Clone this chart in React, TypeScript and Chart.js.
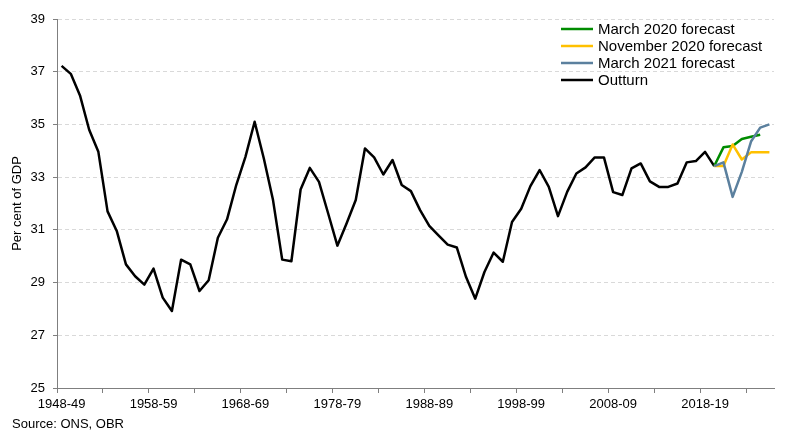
import React, { useEffect, useRef } from 'react';
import { Chart, registerables } from 'chart.js';

Chart.register(...registerables);

const years = [
  '1948-49', '1949-50', '1950-51', '1951-52', '1952-53', '1953-54', '1954-55', '1955-56', '1956-57', '1957-58',
  '1958-59', '1959-60', '1960-61', '1961-62', '1962-63', '1963-64', '1964-65', '1965-66', '1966-67', '1967-68',
  '1968-69', '1969-70', '1970-71', '1971-72', '1972-73', '1973-74', '1974-75', '1975-76', '1976-77', '1977-78',
  '1978-79', '1979-80', '1980-81', '1981-82', '1982-83', '1983-84', '1984-85', '1985-86', '1986-87', '1987-88',
  '1988-89', '1989-90', '1990-91', '1991-92', '1992-93', '1993-94', '1994-95', '1995-96', '1996-97', '1997-98',
  '1998-99', '1999-00', '2000-01', '2001-02', '2002-03', '2003-04', '2004-05', '2005-06', '2006-07', '2007-08',
  '2008-09', '2009-10', '2010-11', '2011-12', '2012-13', '2013-14', '2014-15', '2015-16', '2016-17', '2017-18',
  '2018-19', '2019-20', '2020-21', '2021-22', '2022-23', '2023-24', '2024-25', '2025-26',
];

const xTickLabels = ['1948-49', '1958-59', '1968-69', '1978-79', '1988-89', '1998-99', '2008-09', '2018-19'];

// Outturn, 1948-49 to 2019-20 (per cent of GDP)
const outturn = [
  37.22, 36.92, 36.1, 34.8, 33.96, 31.7, 30.96, 29.69, 29.24, 28.92,
  29.53, 28.43, 27.92, 29.87, 29.69, 28.68, 29.09, 30.7, 31.4, 32.7,
  33.77, 35.1, 33.71, 32.13, 29.87, 29.81, 32.53, 33.35, 32.82, 31.62,
  30.4, 31.24, 32.13, 34.09, 33.75, 33.1, 33.65, 32.7, 32.47, 31.75,
  31.15, 30.79, 30.44, 30.33, 29.21, 28.39, 29.4, 30.14, 29.79, 31.3,
  31.8, 32.66, 33.27, 32.63, 31.52, 32.44, 33.14, 33.37, 33.75, 33.75,
  32.43, 32.32, 33.33, 33.52, 32.84, 32.63, 32.63, 32.76, 33.56, 33.61,
  33.96, 33.42,
];

// Forecasts, starting in 2019-20
const forecastStart = '2019-20';
const march2020 = [33.42, 34.13, 34.18, 34.45, 34.53, 34.61];
const november2020 = [33.42, 33.42, 34.24, 33.67, 33.94, 33.94, 33.94];
const march2021 = [33.42, 33.56, 32.25, 33.2, 34.35, 34.88, 35.0];

const FONT = '"Liberation Sans", Arial, sans-serif';

function padSeries(values: number[]): (number | null)[] {
  const start = years.indexOf(forecastStart);
  const out: (number | null)[] = years.map(() => null);
  values.forEach((v, i) => {
    out[start + i] = v;
  });
  return out;
}

const overlayPlugin = {
  id: 'overlay',
  afterDraw(chart: any) {
    const { ctx, chartArea } = chart;
    ctx.save();
    const x0 = chartArea.right - 213;
    const y0 = 29;
    const step = 17;
    chart.data.datasets.forEach((ds: any, i: number) => {
      const yy = y0 + i * step;
      ctx.strokeStyle = ds.borderColor;
      ctx.lineWidth = 2.5;
      ctx.beginPath();
      ctx.moveTo(x0, yy);
      ctx.lineTo(x0 + 32, yy);
      ctx.stroke();
      ctx.fillStyle = '#000';
      ctx.font = '15px ' + FONT;
      ctx.textBaseline = 'middle';
      ctx.textAlign = 'left';
      ctx.fillText(ds.label, x0 + 37, yy + 1);
    });
    ctx.font = '13px ' + FONT;
    ctx.fillStyle = '#000';
    ctx.textBaseline = 'middle';
    ctx.fillText('Source: ONS, OBR', 12, 424);
    ctx.restore();
  },
};

export default function App() {
  const ref = useRef<HTMLCanvasElement | null>(null);

  useEffect(() => {
    if (!ref.current) return;
    const chart = new Chart(ref.current, {
      type: 'line',
      data: {
        labels: years,
        datasets: [
          {
            label: 'March 2020 forecast',
            data: padSeries(march2020),
            borderColor: '#008C00',
            borderWidth: 2.5,
            pointRadius: 0,
            order: 2,
          },
          {
            label: 'November 2020 forecast',
            data: padSeries(november2020),
            borderColor: '#FFC000',
            borderWidth: 2.5,
            pointRadius: 0,
            order: 1,
          },
          {
            label: 'March 2021 forecast',
            data: padSeries(march2021),
            borderColor: '#5B809E',
            borderWidth: 2.5,
            pointRadius: 0,
            order: 0,
          },
          {
            label: 'Outturn',
            data: outturn,
            borderColor: '#000000',
            borderWidth: 2.5,
            pointRadius: 0,
            order: 3,
          },
        ],
      },
      options: {
        responsive: false,
        animation: false,
        events: [],
        layout: { padding: { top: 19, right: 20, bottom: 0, left: 0 } },
        elements: { line: { tension: 0, borderJoinStyle: 'round', borderCapStyle: 'butt' } },
        plugins: {
          legend: { display: false },
          tooltip: { enabled: false },
          title: { display: false },
        },
        scales: {
          x: {
            type: 'category',
            offset: true,
            grid: {
              offset: true,
              drawOnChartArea: false,
              drawTicks: true,
              tickLength: 5,
              lineWidth: 1,
              color: (c: any) => (c.index % 5 === 0 && c.index < years.length ? '#7f7f7f' : 'rgba(0,0,0,0)'),
              tickColor: (c: any) => (c.index % 5 === 0 && c.index < years.length ? '#7f7f7f' : 'rgba(0,0,0,0)'),
            },
            border: { display: true, color: '#7f7f7f', width: 1 },
            ticks: {
              autoSkip: false,
              maxRotation: 0,
              minRotation: 0,
              padding: 4,
              color: '#000',
              font: { family: FONT, size: 13 },
              callback: (_v: any, i: number) => (xTickLabels.includes(years[i]) ? years[i] : ''),
            },
            afterFit: (s: any) => {
              s.height = 50;
            },
          },
          y: {
            min: 25,
            max: 39,
            ticks: {
              stepSize: 2,
              padding: 8,
              color: '#000',
              font: { family: FONT, size: 13 },
            },
            grid: {
              color: '#d9d9d9',
              lineWidth: 1,
              drawTicks: true,
              tickLength: 4,
              tickColor: '#7f7f7f',
              tickBorderDash: [],
            },
            border: { display: true, color: '#7f7f7f', width: 1, dash: [4, 3] },
            title: {
              display: true,
              text: 'Per cent of GDP',
              color: '#000',
              font: { family: FONT, size: 13 },
              padding: { top: 10, bottom: 0 },
            },
            afterFit: (s: any) => {
              s.width = 57;
            },
          },
        },
      },
      plugins: [overlayPlugin],
    } as any);
    return () => chart.destroy();
  }, []);

  return (
    <div style={{ position: 'absolute', left: 0, top: 0, width: 794, height: 438, background: '#fff' }}>
      <canvas ref={ref} width={794} height={438} style={{ display: 'block' }} />
    </div>
  );
}
